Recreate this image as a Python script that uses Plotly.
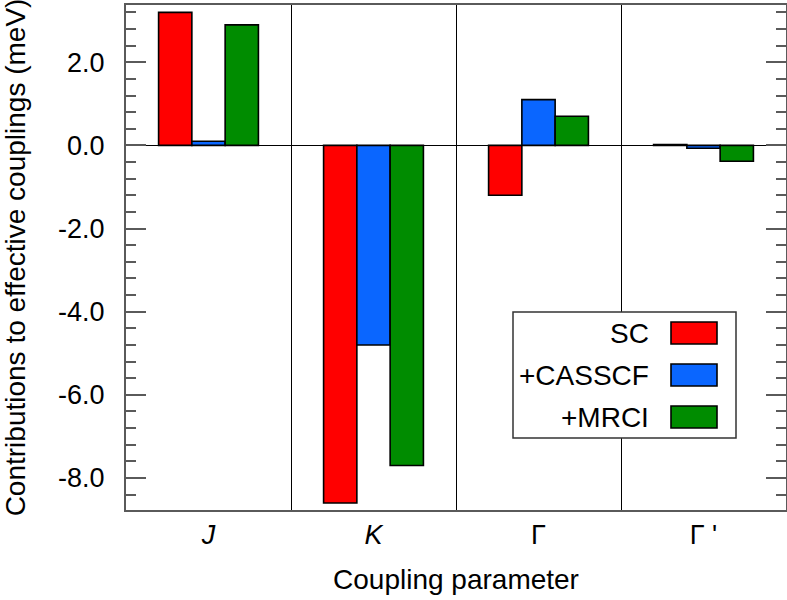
import plotly.graph_objects as go

# ---- data ----
categories = ["<i>J</i>", "<i>K</i>", "Γ", "Γ '"]
series_names = ["SC", "+CASSCF", "+MRCI"]
sc_values = [3.2, -8.6, -1.2, 0.02]
casscf_values = [0.1, -4.8, 1.1, -0.07]
mrci_values = [2.9, -7.7, 0.7, -0.38]
series_values = [sc_values, casscf_values, mrci_values]
colors = ["#ff0000", "#0a66ff", "#008c00"]
y_tick_values = [-8, -6, -4, -2, 0, 2]
y_tick_labels = [("%.1f" % v) for v in y_tick_values]  # plain hyphen-minus

W, H = 787, 600
L, R, T, B = 126, 1, 5, 90
FONT = "Liberation Sans, Arial, sans-serif"
AXIS_GRAY = "#5a5a5a"

fig = go.Figure()
for name, vals, col in zip(series_names, series_values, colors):
    fig.add_trace(go.Bar(
        x=categories, y=vals, name=name,
        marker=dict(color=col, line=dict(color="black", width=1.6)),
        showlegend=False,
    ))

pw, ph = W - L - R, H - T - B


def px_x(x):
    return (x - L) / pw


def px_y(y):
    return (H - B - y) / ph


# manual legend (text right, swatch on the right)
shapes = [dict(type="rect", xref="paper", yref="paper",
               x0=px_x(513), x1=px_x(736), y0=px_y(438), y1=px_y(312),
               line=dict(color="#333333", width=1.5), fillcolor="white", layer="above")]
annotations = []
rows = [333, 375, 417]
for name, col, yc in zip(series_names, colors, rows):
    shapes.append(dict(type="rect", xref="paper", yref="paper",
                       x0=px_x(671), x1=px_x(717), y0=px_y(yc + 11), y1=px_y(yc - 11),
                       line=dict(color="black", width=1.6), fillcolor=col, layer="above"))
    annotations.append(dict(xref="paper", yref="paper", x=px_x(651), y=px_y(yc),
                            text=name, showarrow=False, xanchor="right", yanchor="middle",
                            font=dict(size=28, color="black", family=FONT)))

fig.update_layout(
    width=W, height=H,
    margin=dict(l=L, r=R, t=T, b=B, autoexpand=False),
    paper_bgcolor="white", plot_bgcolor="white",
    barmode="group", bargap=0.395, bargroupgap=0,
    font=dict(family=FONT, color="black"),
    shapes=shapes, annotations=annotations,
    showlegend=False,
)
fig.update_xaxes(
    type="category", tickson="boundaries", ticks="",
    showgrid=True, gridcolor="black", gridwidth=1,
    showline=True, mirror=True, linecolor=AXIS_GRAY, linewidth=2,
    tickfont=dict(size=27, family=FONT), ticklabelstandoff=0,
    title=dict(text="Coupling parameter", font=dict(size=28, family=FONT), standoff=20),
)
fig.update_yaxes(
    range=[-8.77, 3.377], tickvals=y_tick_values, ticktext=y_tick_labels,
    ticks="inside", ticklen=20, tickwidth=1.5, tickcolor=AXIS_GRAY,
    minor=dict(dtick=0.4, tick0=0, ticks="inside", ticklen=10, tickwidth=1.5, tickcolor=AXIS_GRAY),
    showgrid=False, zeroline=True, zerolinecolor="black", zerolinewidth=1,
    showline=True, mirror="allticks", linecolor=AXIS_GRAY, linewidth=2,
    tickfont=dict(size=27, family=FONT), ticklabelstandoff=14,
    title=dict(text="Contributions to effective couplings (meV)", font=dict(size=28, family=FONT), standoff=28),
)
fig.write_html("out.html")
